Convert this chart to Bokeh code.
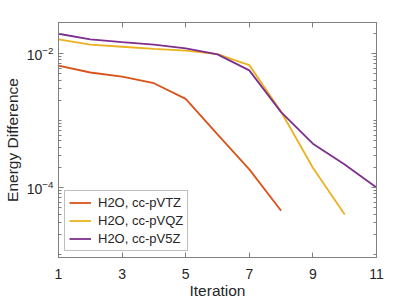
from bokeh.plotting import figure
from bokeh.models import FixedTicker, LogAxis, LinearAxis, Range1d, Legend, LegendItem
from bokeh.embed import file_html
from bokeh.resources import INLINE

iterations_tz = [1, 2, 3, 4, 5, 6, 7, 8]
energy_tz = [0.0066, 0.0052, 0.0045, 0.0036, 0.0021, 6.2e-4, 1.86e-4, 4.5e-5]

iterations_qz = [1, 2, 3, 4, 5, 6, 7, 8, 9, 10]
energy_qz = [0.0162, 0.0136, 0.0126, 0.0117, 0.0110, 0.0098, 0.0067, 1.35e-3, 1.97e-4, 3.95e-5]

iterations_5z = [1, 2, 3, 4, 5, 6, 7, 8, 9, 10, 11]
energy_5z = [0.0197, 0.0162, 0.0148, 0.0136, 0.0119, 0.0097, 0.0056, 1.33e-3, 4.5e-4, 2.2e-4, 1.0e-4]

labels = ["H2O, cc-pVTZ", "H2O, cc-pVQZ", "H2O, cc-pV5Z"]
colors = ["#D95319", "#EDB120", "#7E2F8E"]

x_ticks = [1, 3, 5, 7, 9, 11]
y_ticks = [1e-4, 1e-2]
y_minor = [m * 10.0 ** e for e in range(-6, -1) for m in range(1, 10)]

FONT = "Liberation Sans"
AXC = "#808080"
TXT = "#262626"

p = figure(frame_width=318, frame_height=235, y_axis_type="log",
           x_range=Range1d(1, 11), y_range=Range1d(9e-6, 0.029),
           output_backend="svg", toolbar_location=None,
           min_border_left=57, min_border_right=31, min_border_top=22, min_border_bottom=42)
p.outline_line_color = AXC
p.xgrid.visible = False
p.ygrid.visible = False

renderers = []
for xs, ys, c in [(iterations_tz, energy_tz, colors[0]),
                  (iterations_qz, energy_qz, colors[1]),
                  (iterations_5z, energy_5z, colors[2])]:
    r = p.line(xs, ys, line_color=c, line_width=1.8)
    renderers.append(r)

xt = FixedTicker(ticks=x_ticks, minor_ticks=[])
yt = FixedTicker(ticks=y_ticks, minor_ticks=y_minor)

def style(ax, ticker, show_labels):
    ax.ticker = ticker
    ax.axis_line_color = AXC
    ax.major_tick_line_color = AXC
    ax.minor_tick_line_color = AXC
    ax.major_tick_in = 5
    ax.major_tick_out = 0
    ax.minor_tick_in = 3
    ax.minor_tick_out = 0
    ax.major_label_text_font = FONT
    ax.major_label_text_color = TXT
    if show_labels:
        ax.major_label_text_font_size = "14px"
    else:
        ax.major_label_text_font_size = "1px"
        ax.major_label_text_alpha = 0
    ax.axis_label_text_font = FONT
    ax.axis_label_text_font_style = "normal"
    ax.axis_label_text_color = TXT
    ax.axis_label_text_font_size = "15.5px"

style(p.xaxis[0], xt, True)
style(p.yaxis[0], yt, True)
p.xaxis[0].axis_label = "Iteration"
p.yaxis[0].axis_label = "Energy Difference"
p.xaxis[0].major_label_standoff = 11
p.yaxis[0].major_label_standoff = 5
p.xaxis[0].axis_label_standoff = 0
p.yaxis[0].axis_label_standoff = 3

ra = LogAxis()
style(ra, FixedTicker(ticks=y_ticks, minor_ticks=y_minor), False)
ra.major_label_standoff = 0
p.add_layout(ra, "right")
ta = LinearAxis()
style(ta, FixedTicker(ticks=x_ticks, minor_ticks=[]), False)
ta.major_label_standoff = 0
p.add_layout(ta, "above")

legend = Legend(items=[LegendItem(label=l, renderers=[r]) for l, r in zip(labels, renderers)],
                location="bottom_left")
legend.label_text_font = FONT
legend.label_text_font_size = "13px"
legend.label_text_color = TXT
legend.border_line_color = AXC
legend.border_line_width = 1
legend.background_fill_color = "white"
legend.background_fill_alpha = 1
legend.margin = 6
legend.padding = 4
legend.spacing = 3
legend.label_height = 15
legend.glyph_height = 15
legend.glyph_width = 22
legend.label_standoff = 7
p.add_layout(legend, "center")

open("out.html", "w").write(file_html(p, INLINE))
